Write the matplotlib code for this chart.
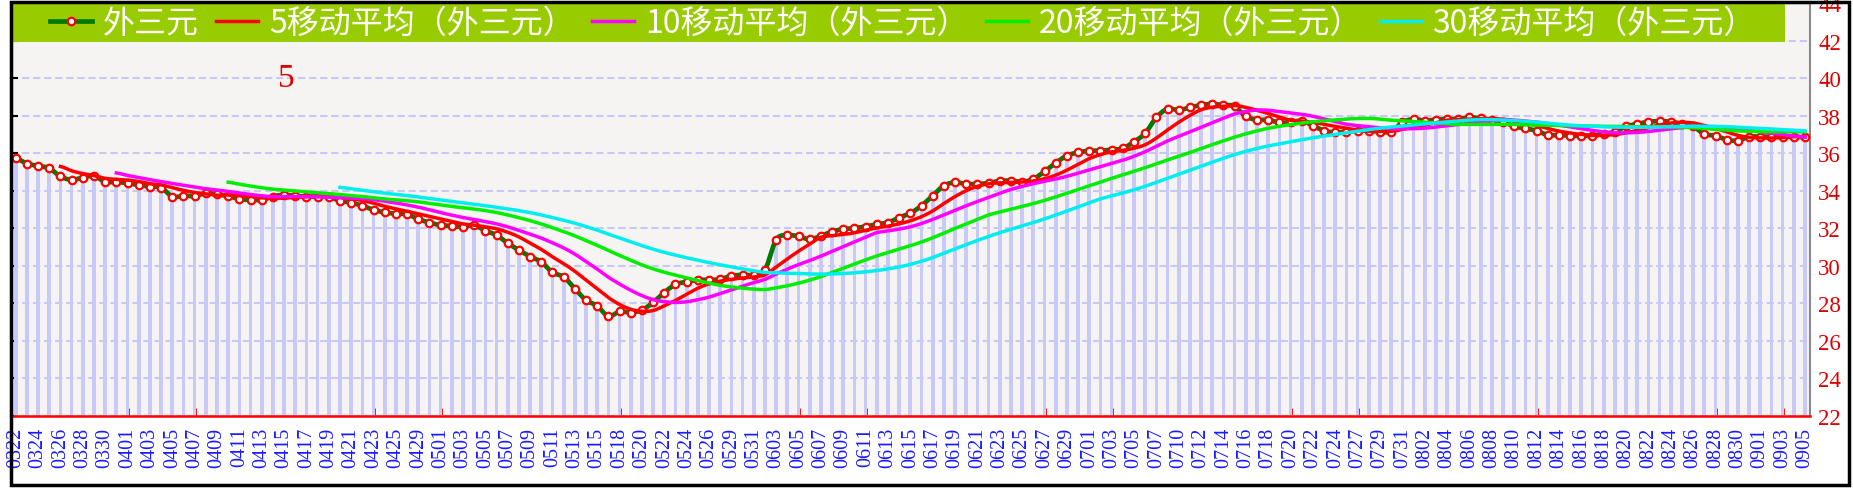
import numpy as np
import pandas as pd
import matplotlib
matplotlib.use("Agg")
import matplotlib.pyplot as plt
from matplotlib.lines import Line2D
from matplotlib.patches import Rectangle

plt.rcParams['font.family'] = ['Noto Sans CJK SC', 'DejaVu Sans']

# ---------------- data ----------------
dates = ["0322","0323","0324","0325","0326","0327","0328","0329","0330","0331",
         "0401","0402","0403","0404","0405","0406","0407","0408","0409","0410",
         "0411","0412","0413","0414","0415","0416","0417","0418","0419","0420",
         "0421","0422","0423","0424","0425","0427","0429","0430","0501","0502",
         "0503","0504","0505","0506","0507","0508","0509","0510","0511","0512",
         "0513","0514","0515","0516","0518","0519","0520","0521","0522","0523",
         "0524","0525","0526","0527","0529","0530","0531","0601","0603","0604",
         "0605","0606","0607","0608","0609","0610","0611","0612","0613","0614",
         "0615","0616","0617","0618","0619","0620","0621","0622","0623","0624",
         "0625","0626","0627","0628","0629","0630","0701","0702","0703","0704",
         "0705","0706","0707","0708","0710","0711","0712","0713","0714","0715",
         "0716","0717","0718","0719","0720","0721","0722","0723","0724","0725",
         "0727","0728","0729","0730","0731","0801","0802","0803","0804","0805",
         "0806","0807","0808","0809","0810","0811","0812","0813","0814","0815",
         "0816","0817","0818","0819","0820","0821","0822","0823","0824","0825",
         "0826","0827","0828","0829","0830","0831","0901","0902","0903","0904",
         "0905"]

values = [35.73, 35.45, 35.32, 35.20, 34.76, 34.58, 34.70, 34.79, 34.47, 34.47,
          34.40, 34.30, 34.22, 34.17, 33.69, 33.72, 33.72, 33.87, 33.81, 33.72,
          33.55, 33.51, 33.51, 33.69, 33.78, 33.72, 33.69, 33.69, 33.67, 33.46,
          33.37, 33.19, 32.98, 32.84, 32.78, 32.75, 32.48, 32.30, 32.16, 32.12,
          32.07, 32.16, 31.86, 31.63, 31.20, 30.83, 30.49, 30.20, 29.64, 29.40,
          28.78, 28.16, 27.86, 27.30, 27.56, 27.50, 27.64, 28.04, 28.57, 29.00,
          29.14, 29.24, 29.24, 29.28, 29.46, 29.51, 29.51, 29.78, 31.38, 31.63,
          31.56, 31.41, 31.59, 31.82, 31.95, 32.00, 32.09, 32.21, 32.30, 32.57,
          32.80, 33.20, 33.73, 34.27, 34.44, 34.36, 34.36, 34.41, 34.53, 34.53,
          34.48, 34.62, 35.03, 35.48, 35.87, 36.04, 36.13, 36.13, 36.19, 36.26,
          36.61, 37.06, 37.91, 38.36, 38.30, 38.44, 38.57, 38.62, 38.57, 38.50,
          37.96, 37.79, 37.77, 37.64, 37.64, 37.73, 37.47, 37.20, 37.11, 37.15,
          37.20, 37.20, 37.15, 37.15, 37.64, 37.82, 37.73, 37.79, 37.82, 37.82,
          37.91, 37.86, 37.79, 37.68, 37.43, 37.32, 37.20, 36.97, 36.97, 36.93,
          36.93, 36.93, 37.02, 37.15, 37.43, 37.56, 37.68, 37.70, 37.68, 37.56,
          37.43, 37.02, 36.93, 36.72, 36.67, 36.88, 36.88, 36.88, 36.88, 36.88,
          36.84]

series_name = "外三元"
ma_windows = [5, 10, 20, 30]
ma_labels = ["5移动平均（外三元）", "10移动平均（外三元）", "20移动平均（外三元）", "30移动平均（外三元）"]
ma_colors = ["#ff0000", "#ff00ff", "#00ee00", "#00eeee"]
y_ticks = list(range(22, 45, 2))
annotation = "5"


def smooth(x, y, n=8):
    x = np.asarray(x, float)
    y = np.asarray(y, float)
    if len(x) < 3:
        return x, y
    px = np.concatenate([[2 * x[0] - x[1]], x, [2 * x[-1] - x[-2]]])
    py = np.concatenate([[y[0]], y, [y[-1]]])
    t = np.linspace(0, 1, n, endpoint=False)
    xs, ys = [], []
    for i in range(1, len(px) - 2):
        for arr, out in ((px, xs), (py, ys)):
            p0, p1, p2, p3 = arr[i - 1], arr[i], arr[i + 1], arr[i + 2]
            out.append(0.5 * (2 * p1 + (-p0 + p2) * t + (2 * p0 - 5 * p1 + 4 * p2 - p3) * t ** 2
                              + (-p0 + 3 * p1 - 3 * p2 + p3) * t ** 3))
    xs.append([x[-1]])
    ys.append([y[-1]])
    return np.concatenate(xs), np.concatenate(ys)


W, H = 1853, 489
fig = plt.figure(figsize=(W / 100, H / 100), dpi=100)
fig.patch.set_facecolor("white")

ax_left, ax_right, ax_top, ax_bottom = 11, 1810, 4.2, 416.7
ax = fig.add_axes([ax_left / W, 1 - ax_bottom / H, (ax_right - ax_left) / W, (ax_bottom - ax_top) / H])
ax.set_facecolor("#f5f4f2")

x = np.arange(len(values))
vals = np.array(values)

# vertical lavender bars
ax.bar(x, vals - 22, bottom=22, width=0.33, color="#c9c9f7", zorder=2)

# main series
sx, sy = smooth(x, vals)
ax.plot(sx, sy, color="#007a00", lw=3.4, zorder=4, solid_capstyle="round")
ax.plot(x, vals, linestyle="none", marker="o", ms=5.4, mfc="white", mec="#ff0000", mew=1.6, zorder=5)

# moving averages
s = pd.Series(vals)
handles = [Line2D([], [], color="#007a00", lw=3.4, marker="o", ms=5.4, mfc="white", mec="#ff0000", mew=1.6)]
for k, (w, lab, col) in enumerate(zip(ma_windows, ma_labels, ma_colors)):
    ma = s.rolling(w).mean()
    mask = ma.notna().values
    mx, my = smooth(x[mask], ma.values[mask])
    ax.plot(mx, my, color=col, lw=2.5, zorder=6 + k)
    handles.append(Line2D([], [], color=col, lw=2.5))

ax.set_xlim(-0.42, 160.45)
ax.set_ylim(22, 44)
ax.set_yticks(y_ticks)
ax.set_xticks(x[::2])
ax.set_xticklabels(dates[::2], rotation=90, family="Liberation Serif", fontsize=14.5, color="#1a1aff")
ax.yaxis.grid(True, color="#c8c8f2", lw=1.5, linestyle=(0, (3.5, 1.8)), zorder=1)
ax.set_axisbelow(True)

ax.tick_params(axis="x", direction="in", length=6, width=2, color="#ff0000", pad=8)
ax.yaxis.set_ticks_position("left")
ax.tick_params(axis="y", direction="in", length=5, width=1.5, color="black",
               labelleft=False, labelright=True, pad=6)
for lab in ax.get_yticklabels():
    lab.set_family("Liberation Serif")
    lab.set_fontsize(16.5)
    lab.set_color("#dd0000")

ax.spines["left"].set_color("black")
ax.spines["left"].set_linewidth(2.2)
ax.spines["bottom"].set_color("#ff0000")
ax.spines["bottom"].set_linewidth(1.8)
ax.spines["right"].set_color("#888888")
ax.spines["right"].set_linewidth(1.5)
ax.spines["top"].set_color("black")
ax.spines["top"].set_linewidth(1.5)

ax.text(0.153, 40, annotation, transform=ax.get_yaxis_transform(), ha="center", va="center",
        family="Liberation Serif", fontsize=24, color="#e00000", zorder=10)

# legend band
bx0, bx1, by0, by1 = 12, 1785, 5, 43
fig.patches.append(Rectangle((bx0 / W, 1 - by1 / H), (bx1 - bx0) / W, (by1 - by0) / H,
                             transform=fig.transFigure, facecolor="#99cc00", edgecolor="none", zorder=3))
fig.legend(handles, [series_name] + ma_labels, loc="center left",
           bbox_to_anchor=((bx0 + 38) / W, 1 - (by0 + by1) / 2 / H), ncol=5, frameon=False,
           fontsize=23, labelcolor="white", handlelength=1.3, handletextpad=0.35,
           columnspacing=0.55, borderpad=0, borderaxespad=0)

# outer border
fig.patches.append(Rectangle((11 / W, 3 / H), (1849 - 11) / W, (486 - 3) / H, transform=fig.transFigure,
                             fill=False, edgecolor="black", lw=2.5, zorder=20))

fig.savefig("out.png", dpi=100)
